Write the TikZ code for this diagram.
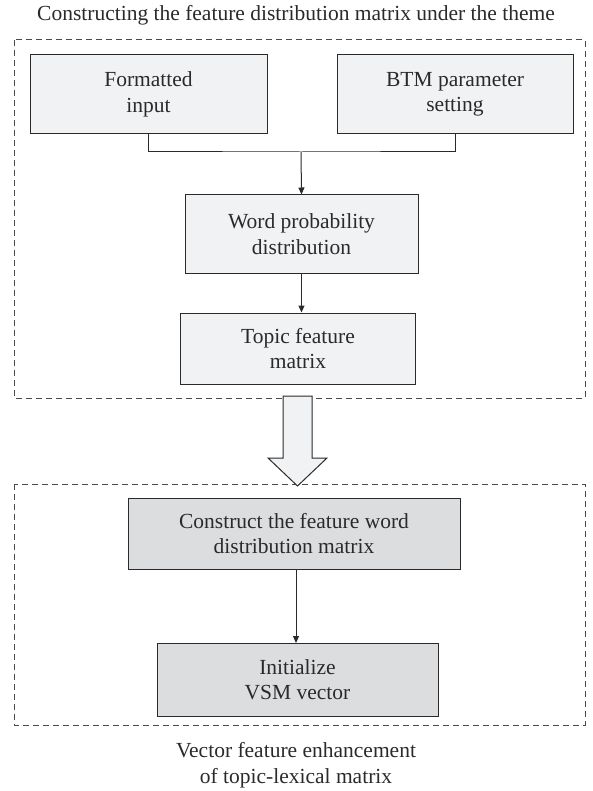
\documentclass[tikz,border=0pt]{standalone}
\usepackage{fontspec}
\setmainfont{Liberation Serif}
\usetikzlibrary{arrows.meta}
\definecolor{boxA}{HTML}{F1F2F4}
\definecolor{boxB}{HTML}{DCDDDF}
\definecolor{lineC}{HTML}{2A2A2A}
\begin{document}
\begin{tikzpicture}[x=1pt,y=-1pt,
  every node/.style={font=\fontsize{21.5}{25.5}\selectfont, text=lineC},
  lightbox/.style={draw=lineC, line width=1pt, fill=boxA, align=center, inner sep=0pt},
  darkbox/.style={draw=lineC, line width=1pt, fill=boxB, align=center, inner sep=0pt},
  group/.style={draw=lineC!85, line width=1pt, dash pattern=on 6pt off 4pt},
  conn/.style={draw=lineC, line width=1pt},
  arr/.style={conn, -{Triangle[length=7pt,width=6pt]}}]
\useasboundingbox (0,0) rectangle (592,791);
% title
\node (title) at (296,15) {Constructing the feature distribution matrix under the theme};
% group 1
\draw[group] (14,40) rectangle (585,398);
\node[lightbox, minimum width=237pt, minimum height=79pt] (fi) at (148.5,94.5) {Formatted\\input};
\node[lightbox, minimum width=236pt, minimum height=79pt] (btm) at (455,94.5) {BTM parameter\\setting};
\node[lightbox, minimum width=233pt, minimum height=78pt] (wpd) at (301.5,234) {Word probability\\distribution};
\node[lightbox, minimum width=235pt, minimum height=71pt] (tfm) at (298,348.5) {Topic feature\\matrix};
\coordinate (join) at (301,152);
\draw[conn] (fi.south) |- (join) -| (btm.south);
\draw[arr] (join) -- (wpd.north);
\draw[arr] (wpd.south) -- (wpd.south |- tfm.north);
% group 2
\draw[group] (14,484) rectangle (585,725);
% big hollow arrow
\draw[draw=lineC, line width=1pt, fill=boxA, line join=miter]
  (283,396) -- (312,396) -- (312,458) -- (327,458) -- (297.5,486) -- (268,458) -- (283,458) -- cycle;
\node[darkbox, minimum width=332pt, minimum height=71pt] (cfw) at (294,533.5) {Construct the feature word\\distribution matrix};
\node[darkbox, minimum width=281pt, minimum height=73pt] (ini) at (297.5,679.5) {Initialize\\VSM vector};
\draw[arr] (cfw.south -| 296,0) -- (296,643);
\node (foot) at (296,765) [align=center] {Vector feature enhancement\\of topic-lexical matrix};
\end{tikzpicture}
\end{document}
